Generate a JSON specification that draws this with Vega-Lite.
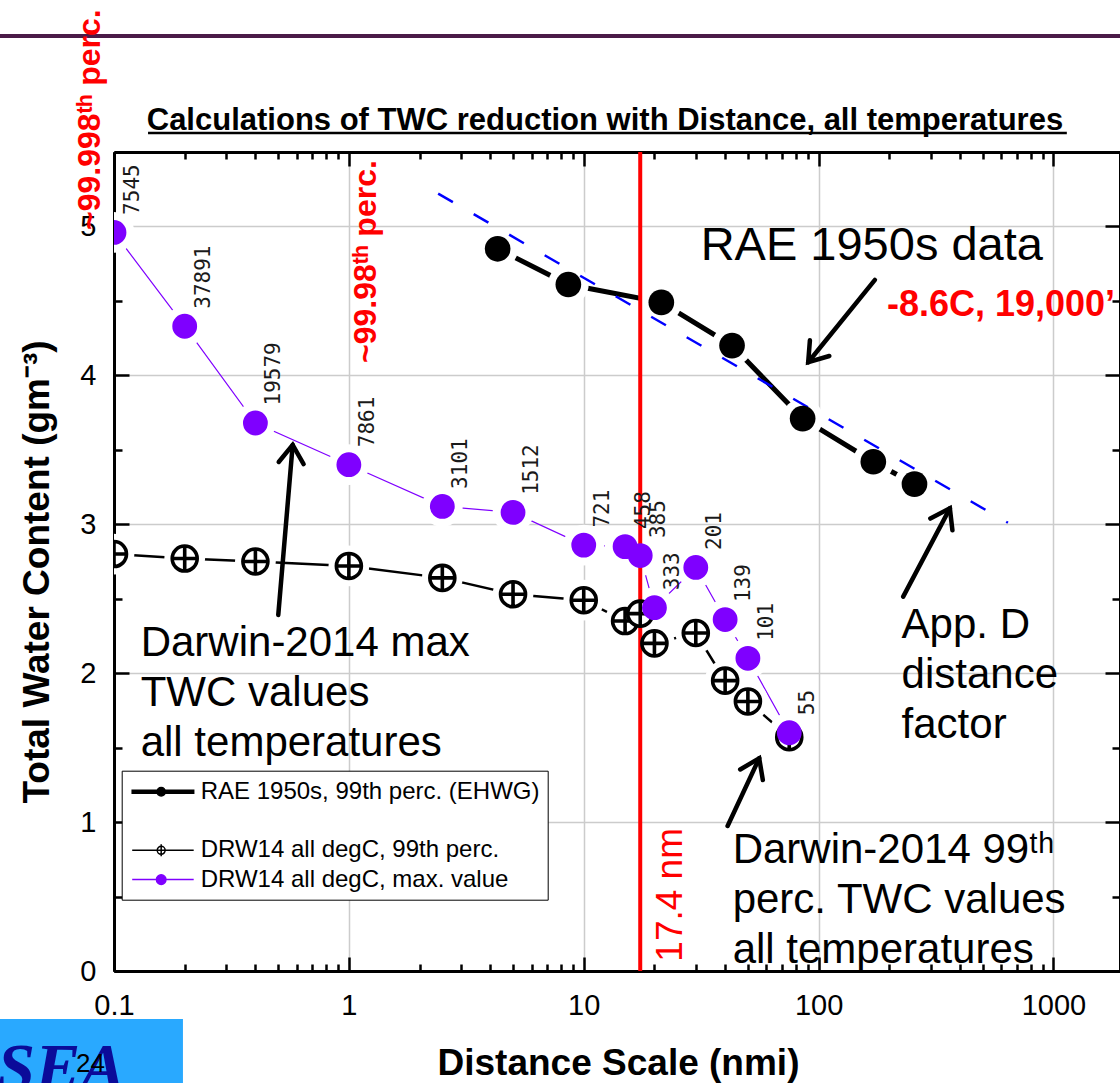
{
"$schema":"https://vega.github.io/schema/vega-lite/v6.json",
"width":1006,"height":819,
"autosize":{"type":"none"},
"padding":{"left":114,"top":152,"right":0,"bottom":112},
"background":"white",
"config":{"view":{"stroke":null},"axis":{"domainColor":"black","domainWidth":3,"tickColor":"black","tickWidth":2.5,"labelFont":"Liberation Sans","titleFont":"Liberation Sans","labelColor":"black","titleColor":"black","grid":false}},
"datasets":{
"purple":[{"d":0.1,"v":4.96,"n":"7545"},{"d":0.2,"v":4.33,"n":"37891"},{"d":0.4,"v":3.68,"n":"19579"},{"d":1,"v":3.4,"n":"7861"},{"d":2.5,"v":3.12,"n":"3101"},{"d":5,"v":3.08,"n":"1512"},{"d":10,"v":2.86,"n":"721"},{"d":15,"v":2.85,"n":"458"},{"d":17.4,"v":2.79,"n":"385"},{"d":20,"v":2.44,"n":"333"},{"d":30,"v":2.71,"n":"201"},{"d":40,"v":2.36,"n":"139"},{"d":50,"v":2.1,"n":"101"},{"d":75,"v":1.6,"n":"55"}],
"black99":[{"d":0.1,"v":2.8},{"d":0.2,"v":2.77},{"d":0.4,"v":2.75},{"d":1,"v":2.72},{"d":2.5,"v":2.64},{"d":5,"v":2.53},{"d":10,"v":2.49},{"d":15,"v":2.35},{"d":17.4,"v":2.4},{"d":20,"v":2.2},{"d":30,"v":2.27},{"d":40,"v":1.95},{"d":50,"v":1.81},{"d":75,"v":1.57}],
"rae":[{"d":4.3,"v":4.85},{"d":8.6,"v":4.61},{"d":21.4,"v":4.49},{"d":42.8,"v":4.2},{"d":85.5,"v":3.71},{"d":171,"v":3.42},{"d":256,"v":3.27}],
"appd":[{"d":2.4,"v":5.22},{"d":640,"v":3.01}],
"arrows":[{"d":0.5005,"v":2.391,"d2":0.5765,"v2":3.533,"heading":4.8},{"d":173.7,"v":4.641,"d2":90.3,"v2":4.088,"heading":219},{"d":229.2,"v":2.514,"d2":362.2,"v2":3.107,"heading":27.9},{"d":40.98,"v":0.974,"d2":55.86,"v2":1.4285,"heading":25}]
},
"layer":[
{"data":{"values":[{"d":0.001,"d2":0.1966,"v":-0.322,"v2":-2}]},
 "mark":{"type":"rect","color":"#29a9ff"},
 "encoding":{"x":{"field":"d","type":"quantitative","scale":{"type":"log","domain":[0.1,1920],"nice":false},"axis":null},"x2":{"field":"d2"},
 "y":{"field":"v","type":"quantitative","scale":{"domain":[0,5.5],"nice":false,"zero":false},"axis":null},"y2":{"field":"v2"}}},
{"data":{"values":[{"d":0.0318,"v":-0.799,"t":"SEA"}]},
 "mark":{"type":"text","align":"left","baseline":"alphabetic","font":"Liberation Serif","fontSize":68,"fontWeight":"bold","fontStyle":"italic","color":"#0b0b99"},
 "encoding":{"x":{"field":"d","type":"quantitative","scale":{"type":"log","domain":[0.1,1920],"nice":false},"axis":null},
 "y":{"field":"v","type":"quantitative","scale":{"domain":[0,5.5],"nice":false,"zero":false},"axis":null},"text":{"field":"t"}}},
{"data":{"values":[{"d":0.0689,"v":-0.678,"t":"24"}]},
 "mark":{"type":"text","align":"left","baseline":"alphabetic","font":"Liberation Sans","fontSize":26,"color":"black"},
 "encoding":{"x":{"field":"d","type":"quantitative","scale":{"type":"log","domain":[0.1,1920],"nice":false},"axis":null},
 "y":{"field":"v","type":"quantitative","scale":{"domain":[0,5.5],"nice":false,"zero":false},"axis":null},"text":{"field":"t"}}},
{"data":{"values":[{"d":0.01,"d2":5000,"v":6.279}]},
 "mark":{"type":"rule","color":"#4b1b48","strokeWidth":4},
 "encoding":{"x":{"field":"d","type":"quantitative","scale":{"type":"log","domain":[0.1,1920],"nice":false},"axis":null},"x2":{"field":"d2"},
 "y":{"field":"v","type":"quantitative","scale":{"domain":[0,5.5],"nice":false,"zero":false},"axis":null}}},
{"data":{"values":[{"d":0.1396,"d2":1140,"v":5.628}]},
 "mark":{"type":"rule","color":"black","strokeWidth":2.5},
 "encoding":{"x":{"field":"d","type":"quantitative","scale":{"type":"log","domain":[0.1,1920],"nice":false},"axis":null},"x2":{"field":"d2"},
 "y":{"field":"v","type":"quantitative","scale":{"domain":[0,5.5],"nice":false,"zero":false},"axis":null}}},
{"data":{"values":[{"d":12.31,"v":5.648,"t":"Calculations of TWC reduction with Distance, all temperatures"}]},
 "mark":{"type":"text","align":"center","baseline":"alphabetic","font":"Liberation Sans","fontSize":31,"fontWeight":"bold","color":"black"},
 "encoding":{"x":{"field":"d","type":"quantitative","scale":{"type":"log","domain":[0.1,1920],"nice":false},"axis":null},
 "y":{"field":"v","type":"quantitative","scale":{"domain":[0,5.5],"nice":false,"zero":false},"axis":null},"text":{"field":"t"}}},
{"data":{"name":"purple"},
 "mark":{"type":"line","color":"#7f00ff","strokeWidth":1.2,"clip":true},
 "encoding":{
 "x":{"field":"d","type":"quantitative","scale":{"type":"log","domain":[0.1,1920],"nice":false},
  "axis":{"orient":"bottom","values":[0.1,1,10,100,1000],"format":"~g","tickSize":-14,"labelFontSize":29,"labelPadding":57,"labelBaseline":"alphabetic","labelFlush":false,"labelOverlap":false,"grid":true,"gridColor":"#cccccc","gridWidth":1.5,"title":"Distance Scale (nmi)","titleFontSize":37,"titleFontWeight":"bold","titleX":504,"titleY":103,"titleBaseline":"alphabetic","titleAlign":"center"}},
 "y":{"field":"v","type":"quantitative","scale":{"domain":[0,5.5],"nice":false,"zero":false},
  "axis":{"orient":"left","values":[0,1,2,3,4,5],"tickSize":-15,"labelFontSize":29,"labelPadding":33,"labelFlush":false,"labelOverlap":false,"grid":true,"gridColor":"#cccccc","gridWidth":1.5,"title":"Total Water Content (gm⁻³)","titleFontSize":37,"titleFontWeight":"bold","titleAngle":270,"titleX":-66,"titleY":651,"titleAlign":"left","titleBaseline":"alphabetic"}}}},
{"data":{"name":"black99"},
 "mark":{"type":"line","color":"black","strokeWidth":2.5,"clip":true},
 "encoding":{
 "x":{"field":"d","type":"quantitative","scale":{"type":"log","domain":[0.1,1920],"nice":false},
  "axis":{"orient":"bottom","values":[0.2,0.3,0.4,0.5,0.6,0.7,0.8,0.9,2,3,4,5,6,7,8,9,20,30,40,50,60,70,80,90,200,300,400,500,600,700,800,900],"tickSize":-7,"labels":false,"grid":false,"title":null}},
 "y":{"field":"v","type":"quantitative","scale":{"domain":[0,5.5],"nice":false,"zero":false},
  "axis":{"orient":"left","values":[0.5,1.5,2.5,3.5,4.5],"tickSize":-8,"labels":false,"grid":false,"title":null}}}},
{"data":{"name":"rae"},
 "mark":{"type":"line","color":"black","strokeWidth":5,"clip":true},
 "encoding":{
 "x":{"field":"d","type":"quantitative","scale":{"type":"log","domain":[0.1,1920],"nice":false},
  "axis":{"orient":"top","values":[0.1,1,10,100,1000],"tickSize":-14,"labels":false,"grid":false,"title":null}},
 "y":{"field":"v","type":"quantitative","scale":{"domain":[0,5.5],"nice":false,"zero":false},
  "axis":{"orient":"right","values":[0,1,2,3,4,5],"tickSize":-15,"labels":false,"grid":false,"title":null}}}},
{"data":{"name":"purple"},
 "mark":{"type":"point","filled":true,"color":"white","opacity":1,"size":1662,"strokeWidth":0,"clip":true},
 "encoding":{
 "x":{"field":"d","type":"quantitative","scale":{"type":"log","domain":[0.1,1920],"nice":false},
  "axis":{"orient":"top","values":[0.2,0.3,0.4,0.5,0.6,0.7,0.8,0.9,2,3,4,5,6,7,8,9,20,30,40,50,60,70,80,90,200,300,400,500,600,700,800,900],"tickSize":-7,"labels":false,"grid":false,"title":null}},
 "y":{"field":"v","type":"quantitative","scale":{"domain":[0,5.5],"nice":false,"zero":false},
  "axis":{"orient":"right","values":[0.5,1.5,2.5,3.5,4.5],"tickSize":-8,"labels":false,"grid":false,"title":null}}}},
{"data":{"name":"black99"},
 "mark":{"type":"point","filled":true,"color":"white","opacity":1,"size":1662,"strokeWidth":0,"clip":true},
 "encoding":{"x":{"field":"d","type":"quantitative","scale":{"type":"log","domain":[0.1,1920],"nice":false},"axis":null},
 "y":{"field":"v","type":"quantitative","scale":{"domain":[0,5.5],"nice":false,"zero":false},"axis":null}}},
{"data":{"name":"rae"},
 "mark":{"type":"point","filled":true,"color":"white","opacity":1,"size":1662,"strokeWidth":0,"clip":true},
 "encoding":{"x":{"field":"d","type":"quantitative","scale":{"type":"log","domain":[0.1,1920],"nice":false},"axis":null},
 "y":{"field":"v","type":"quantitative","scale":{"domain":[0,5.5],"nice":false,"zero":false},"axis":null}}},
{"data":{"name":"appd"},
 "mark":{"type":"line","color":"#0000ff","strokeWidth":2.5,"strokeDash":[17,24],"clip":true},
 "encoding":{"x":{"field":"d","type":"quantitative","scale":{"type":"log","domain":[0.1,1920],"nice":false},"axis":null},
 "y":{"field":"v","type":"quantitative","scale":{"domain":[0,5.5],"nice":false,"zero":false},"axis":null}}},
{"data":{"values":[{"d":17.4,"v":0,"v2":5.5}]},
 "mark":{"type":"rule","color":"#ff0000","strokeWidth":4},
 "encoding":{"x":{"field":"d","type":"quantitative","scale":{"type":"log","domain":[0.1,1920],"nice":false},"axis":null},
 "y":{"field":"v","type":"quantitative","scale":{"domain":[0,5.5],"nice":false,"zero":false},"axis":null},"y2":{"field":"v2"}}},
{"data":{"name":"black99"},
 "mark":{"type":"point","shape":"M1,0A1,1 0 1 1 -1,0A1,1 0 1 1 1,0ZM-1,0L1,0M0,-1L0,1","size":625,"filled":true,"fill":"white","stroke":"black","strokeWidth":3.6,"opacity":1,"clip":true},
 "encoding":{"x":{"field":"d","type":"quantitative","scale":{"type":"log","domain":[0.1,1920],"nice":false},"axis":null},
 "y":{"field":"v","type":"quantitative","scale":{"domain":[0,5.5],"nice":false,"zero":false},"axis":null}}},
{"data":{"name":"rae"},
 "mark":{"type":"point","shape":"circle","size":660,"filled":true,"color":"black","opacity":1,"clip":true},
 "encoding":{"x":{"field":"d","type":"quantitative","scale":{"type":"log","domain":[0.1,1920],"nice":false},"axis":null},
 "y":{"field":"v","type":"quantitative","scale":{"domain":[0,5.5],"nice":false,"zero":false},"axis":null}}},
{"data":{"name":"purple"},
 "mark":{"type":"point","shape":"circle","size":616,"filled":true,"color":"#7f00ff","opacity":1,"clip":true},
 "encoding":{"x":{"field":"d","type":"quantitative","scale":{"type":"log","domain":[0.1,1920],"nice":false},"axis":null},
 "y":{"field":"v","type":"quantitative","scale":{"domain":[0,5.5],"nice":false,"zero":false},"axis":null}}},
{"data":{"name":"purple"},
 "mark":{"type":"text","angle":270,"align":"left","baseline":"alphabetic","dx":17.5,"dy":25,"font":"DejaVu Sans Mono","fontSize":21,"color":"#1a1a1a"},
 "encoding":{"x":{"field":"d","type":"quantitative","scale":{"type":"log","domain":[0.1,1920],"nice":false},"axis":null},
 "y":{"field":"v","type":"quantitative","scale":{"domain":[0,5.5],"nice":false,"zero":false},"axis":null},"text":{"field":"n"}}},
{"data":{"name":"arrows"},
 "mark":{"type":"rule","color":"black","strokeWidth":4.5,"strokeCap":"round"},
 "encoding":{"x":{"field":"d","type":"quantitative","scale":{"type":"log","domain":[0.1,1920],"nice":false},"axis":null},"x2":{"field":"d2"},
 "y":{"field":"v","type":"quantitative","scale":{"domain":[0,5.5],"nice":false,"zero":false},"axis":null},"y2":{"field":"v2"}}},
{"data":{"name":"arrows"},
 "mark":{"type":"point","shape":"M-0.55,0.8L0,0L0.55,0.8","size":2061,"filled":false,"color":"black","strokeWidth":4.5,"opacity":1,"strokeCap":"round","strokeJoin":"miter"},
 "encoding":{"x":{"field":"d2","type":"quantitative","scale":{"type":"log","domain":[0.1,1920],"nice":false},"axis":null},
 "y":{"field":"v2","type":"quantitative","scale":{"domain":[0,5.5],"nice":false,"zero":false},"axis":null},
 "angle":{"field":"heading","type":"quantitative","scale":null}}},
{"data":{"values":[{"d":31.46,"v":4.775,"t":"RAE 1950s data"}]},
 "mark":{"type":"text","align":"left","baseline":"alphabetic","font":"Liberation Sans","fontSize":47,"color":"black"},
 "encoding":{"x":{"field":"d","type":"quantitative","scale":{"type":"log","domain":[0.1,1920],"nice":false},"axis":null},
 "y":{"field":"v","type":"quantitative","scale":{"domain":[0,5.5],"nice":false,"zero":false},"axis":null},"text":{"field":"t"}}},
{"data":{"values":[{"d":195.4,"v":4.399,"t":"-8.6C, 19,000’"}]},
 "mark":{"type":"text","align":"left","baseline":"alphabetic","font":"Liberation Sans","fontSize":36,"fontWeight":"bold","color":"#ff0000"},
 "encoding":{"x":{"field":"d","type":"quantitative","scale":{"type":"log","domain":[0.1,1920],"nice":false},"axis":null},
 "y":{"field":"v","type":"quantitative","scale":{"domain":[0,5.5],"nice":false,"zero":false},"axis":null},"text":{"field":"t"}}},
{"data":{"values":[{"d":225.6,"v":2.234,"t":["App. D","distance","factor"]},{"d":0.1299,"v":2.1155,"t":["Darwin-2014 max","TWC values","all temperatures"]},{"d":43.05,"v":0.7233,"t":["Darwin-2014 99ᵗʰ","perc. TWC values","all temperatures"]}]},
 "mark":{"type":"text","align":"left","baseline":"alphabetic","font":"Liberation Sans","fontSize":42,"lineHeight":50,"color":"black"},
 "encoding":{"x":{"field":"d","type":"quantitative","scale":{"type":"log","domain":[0.1,1920],"nice":false},"axis":null},
 "y":{"field":"v","type":"quantitative","scale":{"domain":[0,5.5],"nice":false,"zero":false},"axis":null},"text":{"field":"t"}}},
{"data":{"values":[{"d":1.304,"v":4.083,"t":"~99.98ᵗʰ perc."},{"d":0.0872,"v":4.976,"t":"~99.998ᵗʰ perc."}]},
 "mark":{"type":"text","angle":270,"align":"left","baseline":"alphabetic","font":"Liberation Sans","fontSize":32,"fontWeight":"bold","color":"#ff0000"},
 "encoding":{"x":{"field":"d","type":"quantitative","scale":{"type":"log","domain":[0.1,1920],"nice":false},"axis":null},
 "y":{"field":"v","type":"quantitative","scale":{"domain":[0,5.5],"nice":false,"zero":false},"axis":null},"text":{"field":"t"}}},
{"data":{"values":[{"d":26.11,"v":0.0625,"t":"17.4 nm"}]},
 "mark":{"type":"text","angle":270,"align":"left","baseline":"alphabetic","font":"Liberation Sans","fontSize":37,"color":"#ff0000"},
 "encoding":{"x":{"field":"d","type":"quantitative","scale":{"type":"log","domain":[0.1,1920],"nice":false},"axis":null},
 "y":{"field":"v","type":"quantitative","scale":{"domain":[0,5.5],"nice":false,"zero":false},"axis":null},"text":{"field":"t"}}},
{"data":{"name":"purple"},
 "transform":[{"filter":"false"}],
 "mark":{"type":"point","filled":true,"opacity":1,"size":576,"strokeWidth":1.5},
 "encoding":{"x":{"field":"d","type":"quantitative","scale":{"type":"log","domain":[0.1,1920],"nice":false},"axis":null},
 "y":{"field":"v","type":"quantitative","scale":{"domain":[0,5.5],"nice":false,"zero":false},"axis":null},
 "fill":{"field":"series","type":"nominal","scale":{"domain":["RAE 1950s, 99th perc. (EHWG)"," ","DRW14 all degC, 99th perc.","DRW14 all degC, max. value"],"range":["black","transparent","white","#7f00ff"]},
  "legend":{"orient":"none","legendX":7.7,"legendY":618.7,"title":null,"padding":8,"strokeColor":"black","fillColor":"white","labelFont":"Liberation Sans","labelFontSize":24,"labelColor":"black","labelOffset":45,"rowPadding":4.3,"symbolSize":576,"symbolStrokeWidth":1.5,"labelLimit":0,"cornerRadius":0}},
 "stroke":{"field":"series","type":"nominal","scale":{"domain":["RAE 1950s, 99th perc. (EHWG)"," ","DRW14 all degC, 99th perc.","DRW14 all degC, max. value"],"range":["black","transparent","black","#7f00ff"]},
  "legend":{"orient":"none","legendX":7.7,"legendY":618.7,"title":null,"padding":8,"strokeColor":"black","fillColor":"white","labelFont":"Liberation Sans","labelFontSize":24,"labelColor":"black","labelOffset":45,"rowPadding":4.3,"symbolSize":576,"symbolStrokeWidth":1.5,"labelLimit":0,"cornerRadius":0}},
 "shape":{"field":"series","type":"nominal","scale":{"domain":["RAE 1950s, 99th perc. (EHWG)"," ","DRW14 all degC, 99th perc.","DRW14 all degC, max. value"],"range":["M-0.875,-0.12H4.25V0.12H-0.875ZM1.89,0A0.35,0.35 0 1 1 1.19,0A0.35,0.35 0 1 1 1.89,0Z","M0,0","M-0.875,0H4.25M1.87,0A0.33,0.33 0 1 1 1.21,0A0.33,0.33 0 1 1 1.87,0ZM1.54,-0.5V0.5","M-0.875,0H4.25M1.94,0A0.4,0.4 0 1 1 1.14,0A0.4,0.4 0 1 1 1.94,0Z"]},
  "legend":{"orient":"none","legendX":7.7,"legendY":618.7,"title":null,"padding":8,"strokeColor":"black","fillColor":"white","labelFont":"Liberation Sans","labelFontSize":24,"labelColor":"black","labelOffset":45,"rowPadding":4.3,"symbolSize":576,"symbolStrokeWidth":1.5,"labelLimit":0,"cornerRadius":0}}}}
],
"resolve":{"axis":{"x":"independent","y":"independent"}}
}
